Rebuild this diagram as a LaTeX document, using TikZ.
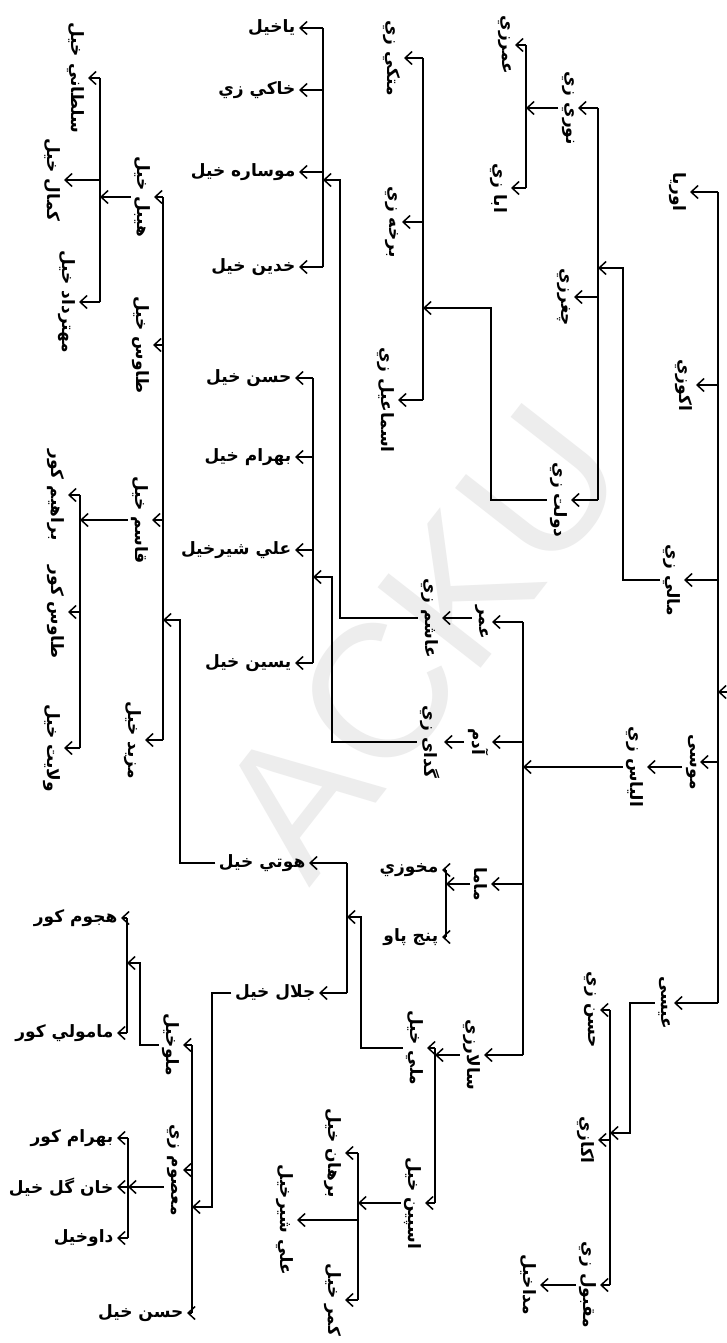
\documentclass[tikz,border=0pt]{standalone}
\usepackage{fontspec}
\setmainfont{Liberation Sans}
\newfontfamily\arabicfont[Script=Arabic]{DejaVu Sans}
\TeXXeTstate=1
\usetikzlibrary{arrows.meta}
\tikzset{
  lbl/.style={font=\arabicfont\bfseries\fontsize{17}{19}\selectfont, inner sep=3.5pt},
  hl/.style={lbl, anchor=east},
  vl/.style={lbl, rotate=-90, anchor=north},
  con/.style={line width=1.1pt},
  arr/.style={con, -{Straight Barb[length=7pt,width=13pt,line width=1.5pt]}},
  wmark/.style={text=black!7, font=\fontsize{190}{190}\selectfont, rotate=52}
}
\begin{document}
\begin{tikzpicture}[x=1pt,y=-1pt]
\fill[white] (0,0) rectangle (726,1343);
\useasboundingbox (0,0) rectangle (726,1343);
\node[wmark] (wm) at (420,640) {ACKU};

% bar x positions
\coordinate (R) at (718,0);
\coordinate (B1) at (598,0);
\coordinate (B2) at (526,0);
\coordinate (B3) at (423,0);
\coordinate (B4) at (523,0);
\coordinate (B5) at (323,0);
\coordinate (B6) at (313,0);
\coordinate (B7) at (446,0);
\coordinate (B8) at (435,0);
\coordinate (B9) at (347,0);
\coordinate (B10) at (358,0);
\coordinate (B11) at (192,0);
\coordinate (B12) at (127,0);
\coordinate (B13) at (128,0);
\coordinate (B14) at (163,0);
\coordinate (B15) at (100,0);
\coordinate (B16) at (80,0);
\coordinate (B17) at (610,0);

% root level
\node[vl] (oriya) at (690,192) {\beginR اوریا\endR};
\node[vl] (akozai) at (696,385) {\beginR اکوزي\endR};
\node[vl] (malizai) at (684,580) {\beginR مالي زي\endR};
\node[vl] (musa) at (700,762) {\beginR موسی\endR};
\node[vl] (isa) at (674,1003) {\beginR عیسی\endR};
\coordinate (rootin) at (745,692);
\draw[arr] (rootin) -- (R |- rootin);
\draw[con] (R |- oriya) -- (R |- isa);
\foreach \n in {oriya,akozai,malizai,musa,isa} \draw[arr] (R |- \n) -- (\n);

% Malizai
\node[vl] (nurizai) at (578,108) {\beginR نوري زي\endR};
\node[vl] (chaghar) at (574,297) {\beginR چغرزي\endR};
\node[vl] (daulat) at (571,500) {\beginR دولت زي\endR};
\coordinate (B1in) at (598,268);
\draw[arr] (malizai) -| ([xshift=25pt]B1in) -- (B1in);
\draw[con] (B1 |- nurizai) -- (B1 |- daulat);
\foreach \n in {nurizai,chaghar,daulat} \draw[arr] (B1 |- \n) -- (\n);

\node[vl] (umarzai) at (515,45) {\beginR عمرزي\endR};
\node[vl] (abazai) at (511,188) {\beginR ابا زي\endR};
\draw[arr] (nurizai) -- (B2 |- nurizai);
\draw[con] (B2 |- umarzai) -- (B2 |- abazai);
\foreach \n in {umarzai,abazai} \draw[arr] (B2 |- \n) -- (\n);

\node[vl] (mattaki) at (404,58) {\beginR متکي زي\endR};
\node[vl] (barkha) at (402,222) {\beginR برخه زي\endR};
\node[vl] (ismail) at (398,400) {\beginR اسماعیل زي\endR};
\coordinate (B3in) at (423,308);
\draw[arr] (daulat) -| ([xshift=68pt]B3in) -- (B3in);
\draw[con] (B3 |- mattaki) -- (B3 |- ismail);
\foreach \n in {mattaki,barkha,ismail} \draw[arr] (B3 |- \n) -- (\n);

% Musa -> Iliaszai
\node[vl] (ilias) at (647,767) {\beginR الیاس زي\endR};
\draw[arr] (musa.south |- ilias) -- (ilias);
\draw[arr] (ilias) -- (B4 |- ilias);

\node[vl] (umar) at (492,622) {\beginR عمر\endR};
\node[vl] (adam) at (492,742) {\beginR آدم\endR};
\node[vl] (mama) at (491,884) {\beginR ماما\endR};
\node[vl] (salar) at (484,1055) {\beginR سالارزي\endR};
\draw[con] (B4 |- umar) -- (B4 |- salar);
\foreach \n in {umar,adam,mama,salar} \draw[arr] (B4 |- \n) -- (\n);

% Umar
\node[vl] (ashim) at (442,618) {\beginR عاشم زي\endR};
\draw[arr] (umar.south |- ashim) -- (ashim);
\node[hl] (yakhel) at (299,28) {\beginR یاخیل\endR};
\node[hl] (khaki) at (299,90) {\beginR خاکي زي\endR};
\node[hl] (musara) at (299,172) {\beginR موساره خیل\endR};
\node[hl] (khadin) at (299,267) {\beginR خدین خیل\endR};
\coordinate (B5in) at (323,180);
\draw[arr] (ashim) -| ([xshift=17pt]B5in) -- (B5in);
\draw[con] (B5 |- yakhel) -- (B5 |- khadin);
\foreach \n in {yakhel,khaki,musara,khadin} \draw[arr] (B5 |- \n) -- (\n);

% Adam
\node[vl] (gadai) at (444,742) {\beginR گدای زي\endR};
\draw[arr] (adam) -- (gadai);
\node[hl] (hasankh) at (295,378) {\beginR حسن خیل\endR};
\node[hl] (bahramkh) at (295,457) {\beginR بهرام خیل\endR};
\node[hl] (alisher) at (295,550) {\beginR علي شیرخیل\endR};
\node[hl] (yasin) at (295,663) {\beginR یسین خیل\endR};
\coordinate (B6in) at (313,577);
\draw[arr] (gadai) -| ([xshift=19pt]B6in) -- (B6in);
\draw[con] (B6 |- hasankh) -- (B6 |- yasin);
\foreach \n in {hasankh,bahramkh,alisher,yasin} \draw[arr] (B6 |- \n) -- (\n);

% Mama
\node[hl] (makho) at (442,870) {\beginR مخوزي\endR};
\node[hl] (panj) at (442,937) {\beginR پنج پاو\endR};
\draw[arr] (mama) -- (B7 |- mama);
\draw[con] (B7 |- makho) -- (B7 |- panj);
\foreach \n in {makho,panj} \draw[arr] (B7 |- \n) -- (\n);

% Salarzai
\node[vl] (malikh) at (427,1048) {\beginR ملي خیل\endR};
\node[vl] (aspin) at (425,1203) {\beginR اسپین خیل\endR};
\draw[arr] (salar) -- (B8 |- salar);
\draw[con] (B8 |- malikh) -- (B8 |- aspin);
\foreach \n in {malikh,aspin} \draw[arr] (B8 |- \n) -- (\n);

% Mali khel
\node[hl] (hoti) at (309,863) {\beginR هوتي خیل\endR};
\node[hl] (jalal) at (319,993) {\beginR جلال خیل\endR};
\coordinate (B9in) at (347,917);
\draw[arr] (malikh) -| ([xshift=14pt]B9in) -- (B9in);
\draw[con] (B9 |- hoti) -- (B9 |- jalal);
\foreach \n in {hoti,jalal} \draw[arr] (B9 |- \n) -- (\n);

% Aspin khel
\node[vl] (burhan) at (345,1153) {\beginR برهان خیل\endR};
\node[vl] (alisher2) at (297,1220) {\beginR علي شیرخیل\endR};
\node[vl] (kamar) at (345,1300) {\beginR کمر خیل\endR};
\draw[arr] (aspin) -- (B10 |- aspin);
\draw[con] (B10 |- burhan) -- (B10 |- kamar);
\foreach \n in {burhan,alisher2,kamar} \draw[arr] (B10 |- \n) -- (\n);

% Hoti khel
\node[vl] (hibal) at (154,197) {\beginR هیبل خیل\endR};
\node[vl] (taus) at (153,345) {\beginR طاوس خیل\endR};
\node[vl] (qasim) at (152,520) {\beginR قاسم خیل\endR};
\node[vl] (mazid) at (145,740) {\beginR مزید خیل\endR};
\coordinate (B14in) at (163,620);
\draw[arr] (hoti) -| ([xshift=17pt]B14in) -- (B14in);
\draw[con] (B14 |- hibal) -- (B14 |- mazid);
\foreach \n in {hibal,taus,qasim,mazid} \draw[arr] (B14 |- \n) -- (\n);

\node[vl] (sultani) at (88,78) {\beginR سلطاني خیل\endR};
\node[vl] (kamal) at (64,180) {\beginR کمال خیل\endR};
\node[vl] (mehtar) at (79,302) {\beginR مهترداد خیل\endR};
\draw[arr] (hibal) -- (B15 |- hibal);
\draw[con] (B15 |- sultani) -- (B15 |- mehtar);
\foreach \n in {sultani,kamal,mehtar} \draw[arr] (B15 |- \n) -- (\n);

\node[vl] (ibrahim) at (68,495) {\beginR براهیم کور\endR};
\node[vl] (tauskor) at (68,612) {\beginR طاوس کور\endR};
\node[vl] (wilayat) at (64,748) {\beginR ولایت خیل\endR};
\draw[arr] (qasim) -- (B16 |- qasim);
\draw[con] (B16 |- ibrahim) -- (B16 |- wilayat);
\foreach \n in {ibrahim,tauskor,wilayat} \draw[arr] (B16 |- \n) -- (\n);

% Jalal khel
\node[vl] (malo) at (183,1045) {\beginR ملوخیل\endR};
\node[vl] (masum) at (183,1170) {\beginR معصوم زي\endR};
\node[hl] (hasankh2) at (187,1313) {\beginR حسن خیل\endR};
\coordinate (B11in) at (192,1207);
\draw[arr] (jalal) -| ([xshift=20pt]B11in) -- (B11in);
\draw[con] (B11 |- malo) -- (B11 |- hasankh2);
\foreach \n in {malo,masum,hasankh2} \draw[arr] (B11 |- \n) -- (\n);

\node[hl] (hujum) at (121,918) {\beginR هجوم کور\endR};
\node[hl] (mamoli) at (117,1033) {\beginR مامولي کور\endR};
\coordinate (B12in) at (127,963);
\draw[arr] (malo) -| ([xshift=13pt]B12in) -- (B12in);
\draw[con] (B12 |- hujum) -- (B12 |- mamoli);
\foreach \n in {hujum,mamoli} \draw[arr] (B12 |- \n) -- (\n);

\node[hl] (bahramkor) at (117,1138) {\beginR بهرام کور\endR};
\node[hl] (khangul) at (117,1187) {\beginR خان گل خیل\endR};
\node[hl] (dawkhel) at (117,1238) {\beginR داوخیل\endR};
\draw[arr] (masum.south |- khangul) -- (B13 |- khangul);
\draw[con] (B13 |- bahramkor) -- (B13 |- dawkhel);
\foreach \n in {bahramkor,khangul,dawkhel} \draw[arr] (B13 |- \n) -- (\n);

% Isa
\node[vl] (hasanzai) at (600,1010) {\beginR حسن زي\endR};
\node[vl] (akazai) at (598,1140) {\beginR اکازي\endR};
\node[vl] (maqbul) at (600,1285) {\beginR مقبول زي\endR};
\coordinate (B17in) at (610,1133);
\draw[arr] (isa) -| ([xshift=20pt]B17in) -- (B17in);
\draw[con] (B17 |- hasanzai) -- (B17 |- maqbul);
\foreach \n in {hasanzai,akazai,maqbul} \draw[arr] (B17 |- \n) -- (\n);
\node[vl] (mada) at (540,1285) {\beginR مداخیل\endR};
\draw[arr] (maqbul) -- (mada);
\end{tikzpicture}
\end{document}
